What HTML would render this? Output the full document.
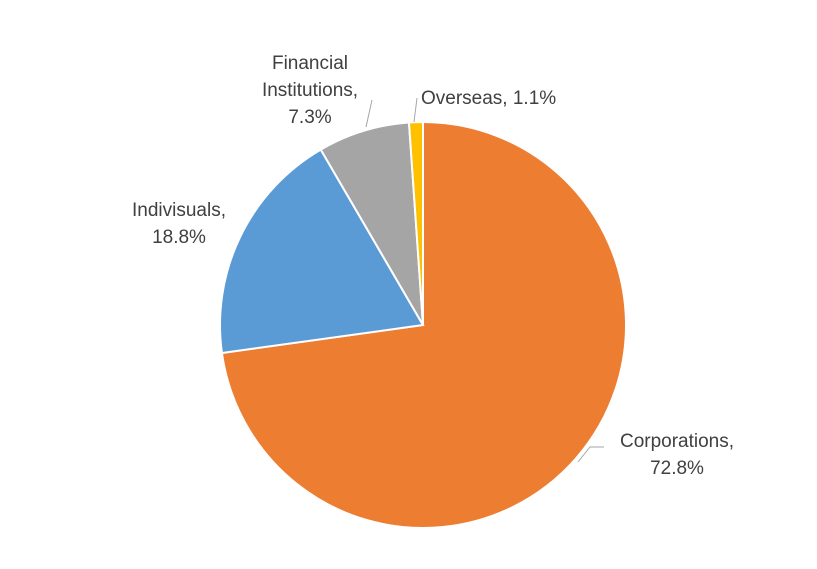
<!DOCTYPE html>
<html><head><meta charset="utf-8"><style>
body{margin:0;background:#fff;}
svg text{font-family:"Liberation Sans",Arial,sans-serif;font-size:19px;fill:#404040;}
</style></head><body>
<svg width="817" height="564">
<g id="slices"></g>
<g id="labels">
<polyline points="578,462 590,447 604,447" fill="none" stroke="#a6a6a6"/>
<text x="677" y="447" text-anchor="middle"><tspan x="677">Corporations,</tspan><tspan x="677" dy="27">72.8%</tspan></text>
<text x="179" y="216" text-anchor="middle"><tspan x="179">Indivisuals,</tspan><tspan x="179" dy="27">18.8%</tspan></text>
<polyline points="366,127 372,100" fill="none" stroke="#a6a6a6"/>
<text x="310" y="69" text-anchor="middle"><tspan x="310">Financial</tspan><tspan x="310" dy="27">Institutions,</tspan><tspan x="310" dy="27">7.3%</tspan></text>
<polyline points="414,122 417,98" fill="none" stroke="#a6a6a6"/>
<text x="421" y="104">Overseas, 1.1%</text>
</g>
</svg>
<script>
const categories=["Corporations","Indivisuals","Financial Institutions","Overseas"];
const values=[72.8,18.8,7.3,1.1];
const colors=["#ed7d31","#5b9bd5","#a5a5a5","#ffc000"];
const cx=423,cy=325,r=203;
const g=document.getElementById('slices');
const total=values.reduce((a,b)=>a+b,0);
let a0=0;
values.forEach((v,i)=>{
  const a1=a0+v/total*2*Math.PI;
  const p=(a)=>[cx+r*Math.sin(a),cy-r*Math.cos(a)];
  const [x0,y0]=p(a0),[x1,y1]=p(a1);
  const large=(a1-a0)>Math.PI?1:0;
  const path=document.createElementNS('http://www.w3.org/2000/svg','path');
  path.setAttribute('d',`M${cx},${cy} L${x0},${y0} A${r},${r} 0 ${large} 1 ${x1},${y1} Z`);
  path.setAttribute('fill',colors[i]);
  path.setAttribute('stroke','#fff');
  path.setAttribute('stroke-width','2');
  
  
  g.appendChild(path);
  a0=a1;
});
</script>
</body></html>
